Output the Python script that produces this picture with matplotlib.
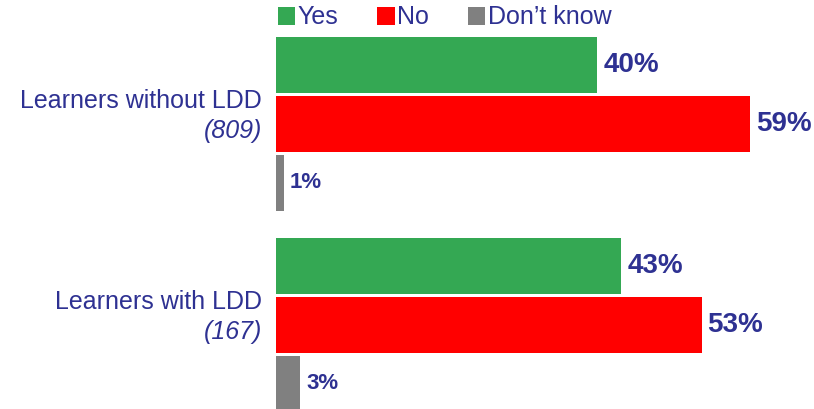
import numpy as np
import matplotlib
matplotlib.use('Agg')
import matplotlib.pyplot as plt
from matplotlib.patches import Patch

plt.rcParams['font.family'] = ['Liberation Sans', 'DejaVu Sans']

# data
groups = ['Learners without LDD', 'Learners with LDD']
bases = ['(809)', '(167)']
series = ['Yes', 'No', 'Don\u2019t know']
yes = [40, 43]
no = [59, 53]
dont_know = [1, 3]

colors = ['#34A853', '#FF0000', '#808080']
txt_col = '#2E3192'

fig = plt.figure(figsize=(8.14, 4.09), dpi=100)
# axes starts where bars start, runs to right edge
ax = fig.add_axes([276/814., 0, 1 - 276/814., 1])

ypos = np.arange(len(groups))
step = 59/201.
h = 56/201.

vals = [yes, no, dont_know]
for i, (v, c) in enumerate(zip(vals, colors)):
    y = ypos + (i - 1)*step
    ax.barh(y, v, height=h, color=c, edgecolor='none')
    for yy, vv in zip(y, v):
        ax.text(vv + 0.75, yy, '{0}%'.format(vv), va='center', ha='left',
                fontsize=20 if vv > 5 else 16, fontweight='bold', color=txt_col)

# category labels to the left of the bars
for yy, g, b in zip(ypos, groups, bases):
    ax.annotate(g, xy=(0, yy - 0.115), xycoords=('axes fraction', 'data'),
                xytext=(-14, 0), textcoords='offset pixels',
                ha='right', va='center', fontsize=18, color=txt_col)
    ax.annotate(b, xy=(0, yy + 0.035), xycoords=('axes fraction', 'data'),
                xytext=(-14, 0), textcoords='offset pixels',
                ha='right', va='center', fontsize=18, color=txt_col, style='italic')

ax.set_xlim(0, (814 - 276)/8.03)
ax.set_ylim((409 - 124)/201., -124/201.)
ax.axis('off')

handles = [Patch(facecolor=c, edgecolor='none') for c in colors]
leg = fig.legend(handles, series, loc='upper left', bbox_to_anchor=(275/814., 1.0 - 3/409.),
                 ncol=3, frameon=False, fontsize=18, handlelength=0.7, handleheight=0.7,
                 handletextpad=0.1, columnspacing=1.55, borderpad=0.1, borderaxespad=0)
for t in leg.get_texts():
    t.set_color(txt_col)

plt.savefig('out.png', dpi=100)
